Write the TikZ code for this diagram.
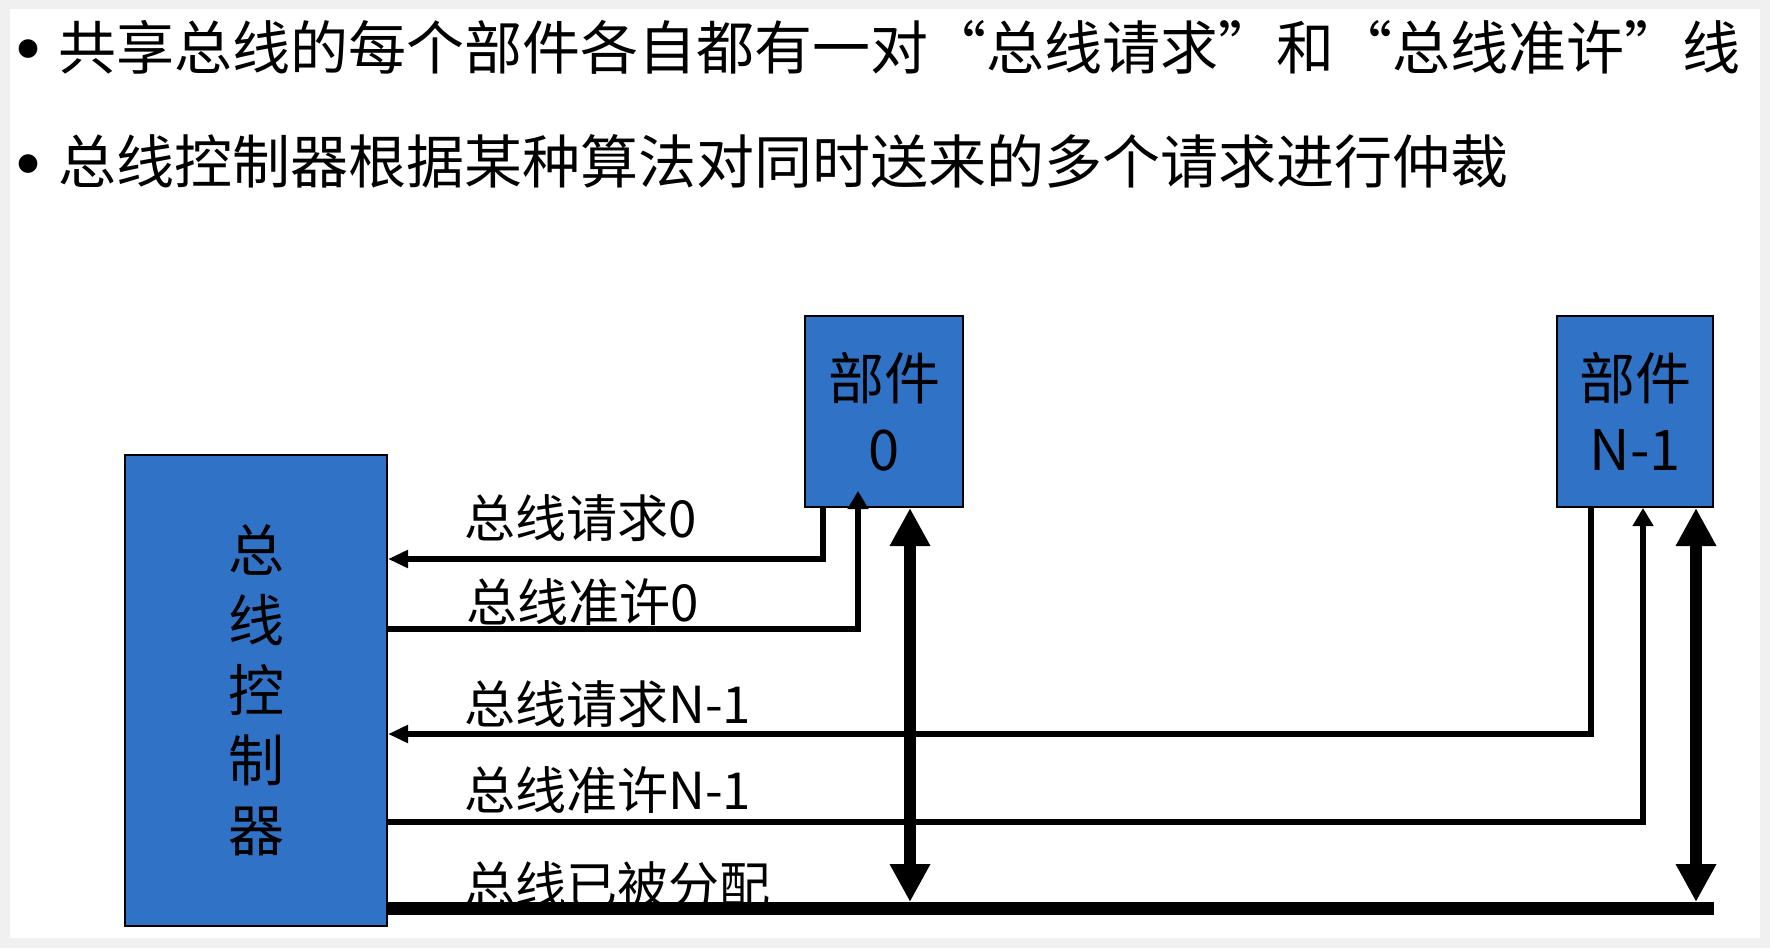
\documentclass[tikz,border=0pt]{standalone}
\usepackage{fontspec}
\setmainfont{Noto Sans CJK SC}
\usetikzlibrary{arrows.meta}
\definecolor{boxblue}{RGB}{48,114,198}
\begin{document}
\begin{tikzpicture}[x=0.5pt,y=-0.5pt,
  unitbox/.style={draw=black,line width=1pt,fill=boxblue,inner sep=0pt,
    align=center,font=\fontsize{28pt}{35.5pt}\selectfont},
  sig/.style={line width=3pt},
  reqtip/.style={-{Triangle[width=8.5pt,length=10pt]}},
  granttip/.style={-{Triangle[width=10pt,length=9pt]}},
  dbl/.style={line width=6pt,{Triangle[width=19pt,length=19pt]}-{Triangle[width=19pt,length=19pt]}},
  bus/.style={line width=6.5pt},
  lab/.style={anchor=west,inner sep=0pt,font=\fontsize{25.5pt}{30pt}\selectfont},
  title/.style={anchor=west,inner sep=0pt,font=\fontsize{29pt}{34pt}\selectfont},
  bullet/.style={anchor=base,inner sep=0pt,font=\fontsize{44pt}{50pt}\selectfont}]
\useasboundingbox (0,0) rectangle (1770,948);
\fill[black!6] (0,0) rectangle (1770,948);
\fill[white] (10,9) rectangle (1760,938);

% titles
\node[bullet] (b1) at (28,82) {\makebox[0pt]{•}};
\node[title] (t1) at (58,47) {共享总线的每个部件各自都有一对“总线请求”和“总线准许”线};
\node[bullet] (b2) at (28,197) {\makebox[0pt]{•}};
\node[title] (t2) at (58,161) {总线控制器根据某种算法对同时送来的多个请求进行仲裁};

% boxes
\node[unitbox,minimum width=131pt,minimum height=235.5pt,
  font=\fontsize{28pt}{35pt}\selectfont] (ctrl) at (256,690.5) {总\\线\\控\\制\\器};
\node[unitbox,minimum width=79pt,minimum height=95.5pt] (box0) at (884,411.5) {部件\\0};
\node[unitbox,minimum width=78pt,minimum height=95.5pt] (boxN) at (1635,411.5) {部件\\N-1};

% labels
\node[lab] (l1) at (464,518) {总线请求0};
\node[lab] (l2) at (466,602) {总线准许0};
\node[lab] (l3) at (464,704) {总线请求N-1};
\node[lab] (l4) at (464,790) {总线准许N-1};
\node[lab] (l5) at (464,885) {总线已被分配};

% line positions
\coordinate (q0) at (823,559);
\coordinate (g0) at (858,629);
\coordinate (qN) at (1591,734);
\coordinate (gN) at (1643,822);
\coordinate (busy) at (0,908);
\coordinate (d0) at (910,902);
\coordinate (dN) at (1696,902);

% request / grant lines
\draw[sig,reqtip] (box0.south -| q0) -- (q0) -- (ctrl.east |- q0);
\draw[sig,granttip] (ctrl.east |- g0) -- (g0) -- ([yshift=8.5pt]box0.south -| g0);
\draw[sig,reqtip] (boxN.south -| qN) -- (qN) -- (ctrl.east |- qN);
\draw[sig,granttip] (ctrl.east |- gN) -- (gN) -- (boxN.south -| gN);

% bus
\draw[bus] (ctrl.east |- busy) -- (boxN.east |- busy);
\draw[dbl] (d0) -- (box0.south -| d0);
\draw[dbl] (dN) -- (boxN.south -| dN);
\end{tikzpicture}
\end{document}
